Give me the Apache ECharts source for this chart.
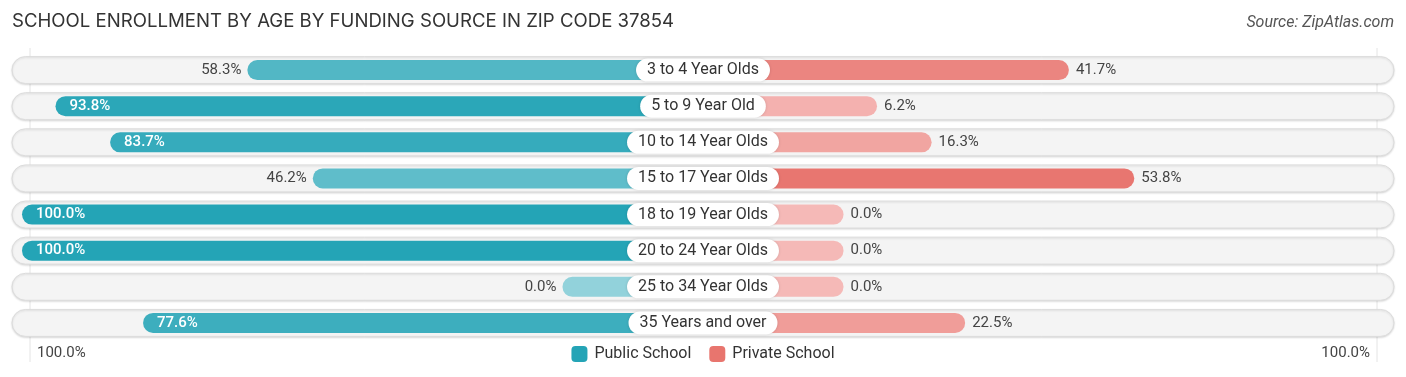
<!DOCTYPE html>
<html>
<head>
<meta charset="utf-8">
<title>School Enrollment by Age by Funding Source in Zip Code 37854</title>
<script src="https://cdn.jsdelivr.net/npm/echarts@6/dist/echarts.min.js"></script>
<style>
  html, body { margin: 0; padding: 0; background: #ffffff; }
  #chart { width: 1406px; height: 377px; }
</style>
</head>
<body>
<div id="chart"></div>
<script>
// data
var categories = ['3 to 4 Year Olds', '5 to 9 Year Old', '10 to 14 Year Olds', '15 to 17 Year Olds',
                  '18 to 19 Year Olds', '20 to 24 Year Olds', '25 to 34 Year Olds', '35 Years and over'];
var publicSchool  = [58.3, 93.8, 83.7, 46.2, 100.0, 100.0, 0.0, 77.6];
var privateSchool = [41.7, 6.2, 16.3, 53.8, 0.0, 0.0, 0.0, 22.5];
var seriesNames = ['Public School', 'Private School'];
var edgeLabels = ['100.0%', '100.0%'];

// every bar starts under the centre label, so add a fixed stub
var stub = 26;
var half = 100 + stub;

function mix(a, b, t) {
    t = Math.min(1, t);
    var r = Math.round(a[0] + (b[0] - a[0]) * t),
        g = Math.round(a[1] + (b[1] - a[1]) * t),
        bl = Math.round(a[2] + (b[2] - a[2]) * t);
    return 'rgb(' + r + ',' + g + ',' + bl + ')';
}
var tealLight = [146, 210, 219], tealDark = [36, 164, 182];
var redLight = [245, 185, 183], redDark = [232, 117, 110];

var leftData = publicSchool.map(function (v) {
    var inside = v > 60;
    return {
        value: -(v + stub),
        itemStyle: { color: mix(tealLight, tealDark, v / 100) },
        label: {
            position: inside ? 'insideLeft' : 'left',
            color: inside ? '#ffffff' : '#444444',
            distance: inside ? 14 : 6,
            fontWeight: inside ? 500 : 400
        }
    };
});
var rightData = privateSchool.map(function (v) {
    return {
        value: v + stub,
        itemStyle: { color: mix(redLight, redDark, v / 55) },
        label: { position: 'right', color: '#444444', distance: 7 }
    };
});

var chart = echarts.init(document.getElementById('chart'));
chart.setOption({
    backgroundColor: '#ffffff',
    animation: false,
    textStyle: { fontFamily: 'Roboto' },
    title: [{
        text: 'SCHOOL ENROLLMENT BY AGE BY FUNDING SOURCE IN ZIP CODE 37854',
        left: 7, top: 7,
        textStyle: { fontFamily: 'Inter', fontSize: 18.6, fontWeight: 400, color: '#333333' }
    }, {
        text: 'Source: ZipAtlas.com',
        right: 7, top: 10,
        textStyle: { fontFamily: 'Roboto', fontSize: 16, fontWeight: 400, fontStyle: 'italic', color: '#555555' }
    }],
    legend: {
        data: seriesNames,
        bottom: 10, left: 'center',
        itemWidth: 16, itemHeight: 16, itemGap: 18,
        icon: 'roundRect',
        textStyle: { fontSize: 16, color: '#333333', fontFamily: 'Roboto', padding: [0, 0, 0, 2] }
    },
    grid: { left: 22, right: 22, top: 52, bottom: 36 },
    xAxis: {
        type: 'value', min: -half, max: half,
        show: false
    },
    yAxis: {
        type: 'category', data: categories, inverse: true,
        show: false
    },
    graphic: [
        { type: 'line', shape: { x1: 30, y1: 48, x2: 30, y2: 362 }, style: { stroke: '#e4e4e4', lineWidth: 1 }, z: 0 },
        { type: 'line', shape: { x1: 1377, y1: 48, x2: 1377, y2: 362 }, style: { stroke: '#e4e4e4', lineWidth: 1 }, z: 0 },
        { type: 'text', left: 37, top: 346, style: { text: edgeLabels[0], fontSize: 15, fill: '#444444', fontFamily: 'Roboto' } },
        { type: 'text', right: 36, top: 346, style: { text: edgeLabels[1], fontSize: 15, fill: '#444444', fontFamily: 'Roboto' } }
    ],
    series: [{
        // row background pills
        type: 'custom',
        silent: true,
        z: 1,
        data: categories.map(function (c, i) { return [0, i]; }),
        renderItem: function (params, api) {
            var y = api.coord([0, api.value(1)])[1];
            var cs = params.coordSys;
            return {
                type: 'rect',
                shape: { x: cs.x - 10, y: y - 13.5, width: cs.width + 20, height: 27, r: 13.5 },
                style: {
                    fill: '#f4f4f4', stroke: '#dcdcdc', lineWidth: 1,
                    shadowBlur: 2, shadowColor: 'rgba(0,0,0,0.12)', shadowOffsetY: 1
                }
            };
        }
    }, {
        name: seriesNames[0],
        type: 'bar',
        stack: 'a',
        z: 3,
        barWidth: 20,
        itemStyle: { color: 'rgb(36,164,182)', borderRadius: 10 },
        label: {
            show: true, fontSize: 15, fontFamily: 'Roboto',
            formatter: function (p) { return publicSchool[p.dataIndex].toFixed(1) + '%'; }
        },
        data: leftData
    }, {
        name: seriesNames[1],
        type: 'bar',
        stack: 'b',
        z: 3,
        barWidth: 20,
        barGap: '-100%',
        itemStyle: { color: 'rgb(232,117,110)', borderRadius: 10 },
        label: {
            show: true, fontSize: 15, fontFamily: 'Roboto',
            formatter: function (p) { return privateSchool[p.dataIndex].toFixed(1) + '%'; }
        },
        data: rightData
    }, {
        // centre category labels
        type: 'custom',
        silent: true,
        z: 10,
        data: categories.map(function (c, i) { return [0, i]; }),
        renderItem: function (params, api) {
            var pt = api.coord([0, api.value(1)]);
            return {
                type: 'text',
                z2: 100,
                style: {
                    text: categories[params.dataIndex],
                    x: pt[0], y: pt[1],
                    align: 'center', verticalAlign: 'middle',
                    font: '16px Roboto',
                    fill: '#333333',
                    backgroundColor: '#ffffff',
                    borderRadius: 12,
                    padding: [4, 11, 3, 11],
                    shadowBlur: 3, shadowColor: 'rgba(0,0,0,0.15)'
                }
            };
        }
    }]
});
</script>
</body>
</html>
